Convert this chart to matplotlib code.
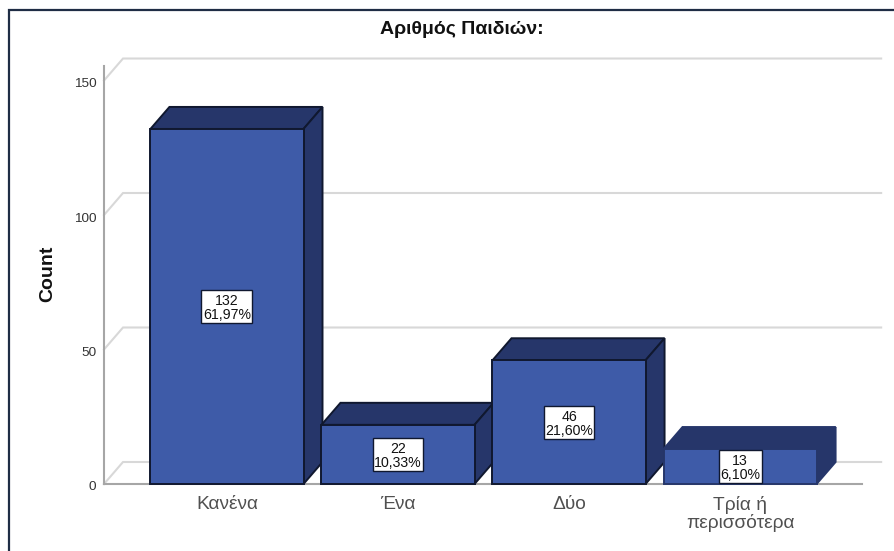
import matplotlib
matplotlib.use('Agg')
import matplotlib.pyplot as plt
from matplotlib.lines import Line2D
from matplotlib.patches import Polygon, Rectangle
from matplotlib.transforms import IdentityTransform, ScaledTranslation

plt.rcParams['font.family'] = ['Liberation Sans', 'DejaVu Sans']

# counts per number of children
categories = ['Κανένα', 'Ένα', 'Δύο', 'Τρία ή\nπερισσότερα']
counts = [132, 22, 46, 13]
percents = ['61,97%', '10,33%', '21,60%', '6,10%']
y_ticks = [0, 50, 100, 150]

FRONT = '#3e5ba8'
DARK = '#26366a'
EDGE = '#10182f'
GRID = '#d8d8d8'
AXIS = '#a6a6a6'

W, H = 895, 551
fig = plt.figure(figsize=(W / 100, H / 100), dpi=100, facecolor='white')
ax = fig.add_axes([104 / W, (H - 484) / H, 758 / W, 418 / H])
ax.set_xlim(-0.719, 3.713)
ax.set_ylim(0, 155.4)
ax.patch.set_visible(False)

# depth of the fake 3D look, in data units
dx = 19 / 171
dy = 22 / 2.689
bar_w = 0.895
x_left = -0.719

# back wall gridlines with their diagonal connector to the y axis
for v in y_ticks:
    ax.plot([x_left, x_left + dx, 3.825], [v, v + dy, v + dy], color=GRID, lw=1.5,
            clip_on=False, zorder=1, solid_joinstyle='miter')

ax.bar(range(len(counts)), counts, width=bar_w, color=FRONT, edgecolor='none', zorder=3)

text_shift = ScaledTranslation(0, -1.5 / 100, fig.dpi_scale_trans)
labels = []
for i, c in enumerate(counts):
    l = i - bar_w / 2
    r = i + bar_w / 2
    # the smallest bar has a softer outline
    ec = EDGE if c > 13 else DARK
    ax.add_patch(Polygon([(l, c), (r, c), (r + dx, c + dy), (l + dx, c + dy)], closed=True,
                         facecolor=DARK, edgecolor=ec, lw=1.4, zorder=3, clip_on=False))
    ax.add_patch(Polygon([(r, 0), (r + dx, dy), (r + dx, c + dy), (r, c)], closed=True,
                         facecolor=DARK, edgecolor=ec, lw=1.4, zorder=3, clip_on=False))
    ax.add_patch(Polygon([(l, 0), (r, 0), (r, c), (l, c)], closed=True,
                         facecolor=FRONT, edgecolor=ec, lw=1.4, zorder=4, clip_on=False))
    labels.append(ax.text(i, c / 2, f'{c}\n{percents[i]}', ha='center', va='center', fontsize=10.2,
                          color='#111111', linespacing=1.0, zorder=6,
                          transform=ax.transData + text_shift))

# white label boxes, sized in pixels around each text
renderer = fig.canvas.get_renderer()
for t in labels:
    ext = t.get_window_extent(renderer)
    cy = (ext.y0 + ext.y1) / 2 + 1.5
    ax.add_patch(Rectangle((ext.x0 - 1.5, cy - 16.5), ext.width + 3, 33, transform=IdentityTransform(),
                           facecolor='white', edgecolor=EDGE, lw=1.0, zorder=5, clip_on=False))

for side in ['top', 'right']:
    ax.spines[side].set_visible(False)
for side in ['left', 'bottom']:
    ax.spines[side].set_color(AXIS)
    ax.spines[side].set_linewidth(1.5)
ax.spines['bottom'].set_zorder(2)

ax.set_xticks(range(len(categories)))
ax.set_xticklabels(categories, fontsize=13.8, color='#505050', linespacing=1.02)
ax.tick_params(axis='x', length=0, pad=8.5)
ax.set_yticks(y_ticks)
ax.set_yticklabels([str(v) for v in y_ticks], fontsize=9.7, color='#333333')
ax.tick_params(axis='y', length=0, pad=5.5)

# y labels sit a little below their gridline start
shift = ScaledTranslation(0, -2 / 100, fig.dpi_scale_trans)
for lab in ax.get_yticklabels():
    lab.set_transform(lab.get_transform() + shift)

fig.text(462 / W, 1 - 30 / H, 'Αριθμός Παιδιών:', ha='center', va='center',
         fontsize=14, fontweight='bold', color='#111111')
fig.text(48 / W, 1 - 274 / H, 'Count', rotation=90, ha='center', va='center',
         fontsize=14, fontweight='bold', color='#111111')

# outer chart frame, only the top and left sides are in view
fig.add_artist(Line2D([9 / W, 9 / W, 1], [0, 1 - 9.5 / H, 1 - 9.5 / H], color='#1f2d45', lw=1.6,
                      solid_joinstyle='miter'))

fig.savefig('out.png', dpi=100)
